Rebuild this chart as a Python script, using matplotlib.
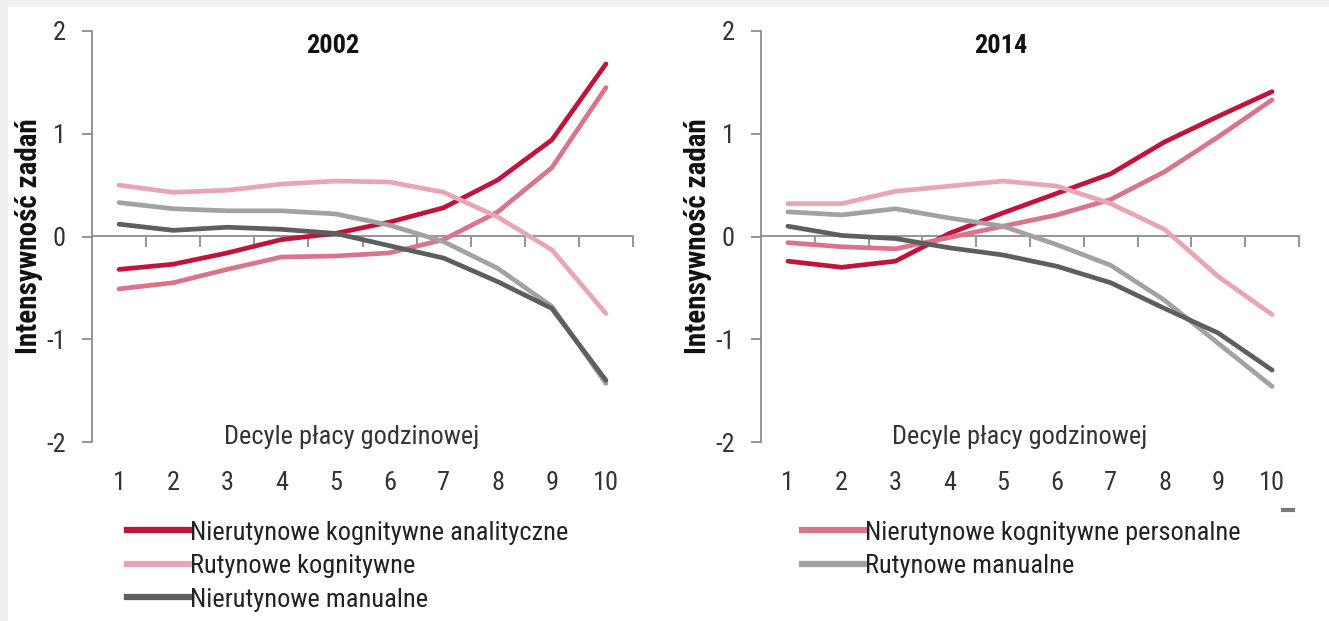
import numpy as np
import matplotlib
matplotlib.use("Agg")
import matplotlib.pyplot as plt
from matplotlib import font_manager
from matplotlib.patches import Rectangle
from matplotlib.lines import Line2D

# pick a narrow font if one is there
names = {f.name for f in font_manager.fontManager.ttflist}
family = "DejaVu Sans"
for cand in ["Liberation Sans Narrow", "Roboto Condensed", "DejaVu Sans Condensed", "Roboto", "Liberation Sans"]:
    if cand in names:
        family = cand
        break
plt.rcParams["font.family"] = [family, "DejaVu Sans"]

deciles = list(range(1, 11))
series = ["Nierutynowe kognitywne analityczne", "Nierutynowe kognitywne personalne",
          "Rutynowe kognitywne", "Rutynowe manualne", "Nierutynowe manualne"]
colors = ["#C0143C", "#D9748A", "#E8A6B5", "#A2A2A2", "#5E5E5E"]

y2002 = {
    "Nierutynowe kognitywne analityczne": [-0.32, -0.27, -0.16, -0.03, 0.03, 0.14, 0.28, 0.55, 0.94, 1.68],
    "Nierutynowe kognitywne personalne": [-0.51, -0.45, -0.32, -0.20, -0.19, -0.16, -0.03, 0.24, 0.67, 1.45],
    "Rutynowe kognitywne": [0.50, 0.43, 0.45, 0.51, 0.54, 0.53, 0.43, 0.19, -0.13, -0.75],
    "Rutynowe manualne": [0.33, 0.27, 0.25, 0.25, 0.22, 0.11, -0.05, -0.31, -0.68, -1.43],
    "Nierutynowe manualne": [0.12, 0.06, 0.09, 0.07, 0.03, -0.09, -0.21, -0.44, -0.70, -1.40],
}
y2014 = {
    "Nierutynowe kognitywne analityczne": [-0.24, -0.30, -0.24, 0.03, 0.23, 0.42, 0.61, 0.92, 1.17, 1.41],
    "Nierutynowe kognitywne personalne": [-0.06, -0.10, -0.12, -0.01, 0.10, 0.21, 0.36, 0.63, 0.97, 1.33],
    "Rutynowe kognitywne": [0.32, 0.32, 0.44, 0.49, 0.54, 0.49, 0.32, 0.07, -0.39, -0.76],
    "Rutynowe manualne": [0.24, 0.21, 0.27, 0.18, 0.10, -0.08, -0.28, -0.62, -1.04, -1.46],
    "Nierutynowe manualne": [0.10, 0.01, -0.02, -0.11, -0.18, -0.29, -0.45, -0.70, -0.94, -1.30],
}
yticks = [2, 1, 0, -1, -2]
ytick_labels = ["2", "1", "0", "-1", "-2"]

W, H = 1329, 621
fig = plt.figure(figsize=(W / 100, H / 100), dpi=100)
fig.patch.set_facecolor("#EFEFEF")
fig.add_artist(Rectangle((8 / W, 0), 1, 1 - 7 / H, transform=fig.transFigure,
                         facecolor="white", edgecolor="none", zorder=0))

axis_col = "#8C8C8C"
fs = 19

def draw_panel(rect, data, title):
    ax = fig.add_axes(rect)
    ax.patch.set_alpha(0)
    for name, col in zip(series, colors):
        ax.plot(deciles, data[name], color=col, lw=3.4, solid_capstyle="round",
                solid_joinstyle="round", label=name)
    ax.set_xlim(0.5, 10.5)
    ax.set_ylim(-2, 2)
    for s in ["top", "right", "bottom"]:
        ax.spines[s].set_visible(False)
    ax.spines["left"].set_color(axis_col)
    ax.spines["left"].set_linewidth(1.3)
    ax.set_yticks(yticks)
    ax.set_yticklabels(ytick_labels)
    ax.tick_params(axis="y", length=7, width=1.3, color=axis_col, pad=12,
                   labelsize=fs, labelcolor="#333333")
    ax.set_xticks(deciles)
    ax.tick_params(axis="x", length=0, pad=21, labelsize=fs, labelcolor="#333333")
    # zero line with ticks between deciles
    sec = ax.secondary_xaxis(0.5)
    for sp in sec.spines.values():
        sp.set_color(axis_col)
        sp.set_linewidth(1.3)
    sec.xaxis.set_ticks_position("bottom")
    sec.set_xticks([d + 0.5 for d in deciles])
    sec.set_xticklabels([])
    sec.tick_params(length=7, width=1.3, color=axis_col, labelbottom=False, labeltop=False)
    ax.text(4.95, 1.85, title, ha="center", va="center", fontsize=fs, fontweight="bold", color="#111111")
    ax.text(5.3, -1.95, "Decyle płacy godzinowej", ha="center", va="center", fontsize=fs, color="#333333")
    ax.set_ylabel("Intensywność zadań", fontsize=fs + 2, fontweight="bold", color="#111111", labelpad=2)
    return ax

ax1 = draw_panel([92 / W, 1 - 442 / H, 541 / W, 411 / H], y2002, "2002")
ax2 = draw_panel([761 / W, 1 - 442 / H, 538 / W, 411 / H], y2014, "2014")

h = [Line2D([], [], color=c, lw=4.5) for c in colors]
leg_kw = dict(frameon=False, fontsize=fs, handlelength=2.4, handletextpad=0.0,
              labelspacing=0.36, borderaxespad=0, labelcolor="#222222")
fig.legend([h[0], h[2], h[4]], [series[0], series[2], series[4]], loc="upper left",
           bbox_to_anchor=(116 / W, 1 - 510 / H), **leg_kw)
fig.legend([h[1], h[3]], [series[1], series[3]], loc="upper left",
           bbox_to_anchor=(791 / W, 1 - 510 / H), **leg_kw)

fig.add_artist(Line2D([1283 / W, 1293 / W], [1 - 510 / H, 1 - 510 / H], transform=fig.transFigure,
                      color="#7A7A7A", lw=3))

fig.savefig("out.png", dpi=100)
